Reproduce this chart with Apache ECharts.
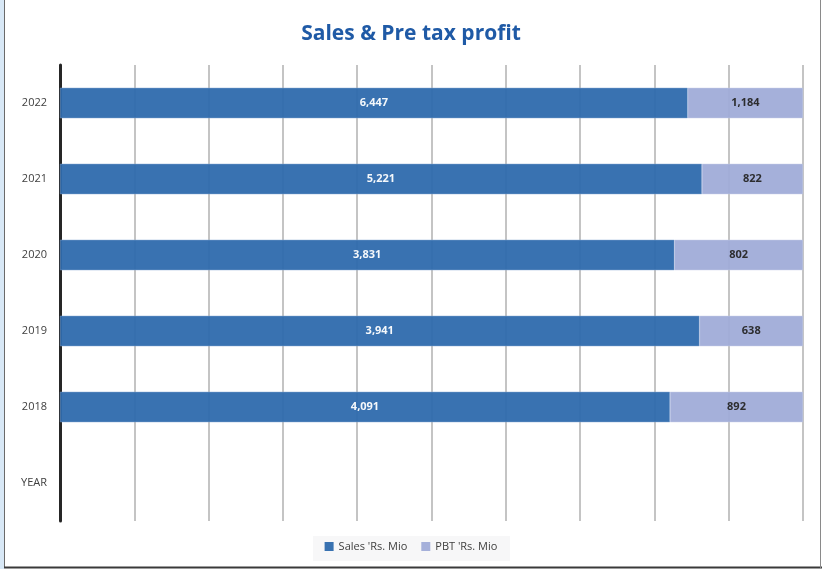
<!DOCTYPE html>
<html>
<head>
<meta charset="utf-8">
<script src="https://cdn.jsdelivr.net/npm/echarts@6/dist/echarts.min.js"></script>
<style>
html,body{margin:0;padding:0;background:#fff;}
#c{width:822px;height:569px;}
</style>
</head>
<body>
<div id="c"></div>
<script>
const categories = ['YEAR', '2018', '2019', '2020', '2021', '2022'];
const sales = [null, 4091, 3941, 3831, 5221, 6447];
const pbt = [null, 892, 638, 802, 822, 1184];
const seriesNames = ["Sales 'Rs. Mio", "PBT 'Rs. Mio"];

function pct(v, i) {
  if (v == null) return null;
  return v / (sales[i] + pbt[i]) * 100;
}
const salesData = sales.map((v, i) => ({ value: pct(v, i), raw: v }));
const pbtData = pbt.map((v, i) => ({ value: pct(v, i), raw: v }));
const fmt = p => p.data.raw == null ? '' : p.data.raw.toLocaleString('en-US');

const chart = echarts.init(document.getElementById('c'), null, { renderer: 'canvas' });
chart.setOption({
  animation: false,
  backgroundColor: '#ffffff',
  title: {
    text: 'Sales & Pre tax profit',
    left: 'center',
    top: 19,
    textStyle: { color: '#1f5aa6', fontSize: 21, fontWeight: 'bold', fontFamily: 'Open Sans, sans-serif' }
  },
  graphic: [
    { type: 'rect', left: 0, top: 0, shape: { x: 0, y: 0, width: 4, height: 569 }, style: { fill: '#d8e8f6' }, silent: true },
    { type: 'line', shape: { x1: 4.5, y1: 0, x2: 4.5, y2: 568 }, style: { stroke: '#6a6a6a', lineWidth: 1 }, silent: true },
    { type: 'line', shape: { x1: 4, y1: 567.5, x2: 822, y2: 567.5 }, style: { stroke: '#3a3a3a', lineWidth: 2 }, silent: true },
    { type: 'line', shape: { x1: 820.5, y1: 0, x2: 820.5, y2: 568 }, style: { stroke: '#8a8a8a', lineWidth: 1 }, silent: true },
    { type: 'rect', shape: { x: 313, y: 536, width: 197, height: 25 }, style: { fill: '#f7f7f8' }, silent: true, z: -1 }
  ],
  legend: {
    bottom: 12,
    left: 'center',
    itemWidth: 9,
    itemHeight: 9,
    itemGap: 14,
    icon: 'rect',
    itemStyle: { borderWidth: 0 },
    textStyle: { color: '#404040', fontSize: 11, fontFamily: 'Open Sans, sans-serif' },
    data: seriesNames
  },
  grid: { left: 60, right: 19, top: 65, bottom: 48, containLabel: false },
  xAxis: {
    type: 'value',
    min: 0,
    max: 100,
    interval: 10,
    axisLabel: { show: false },
    axisLine: { show: false },
    axisTick: { show: false },
    splitLine: { show: true, lineStyle: { color: '#c4c4c4', width: 2 } }
  },
  yAxis: {
    type: 'category',
    data: categories,
    axisLine: { show: true, lineStyle: { color: '#262626', width: 3 } },
    axisTick: { show: false },
    axisLabel: { color: '#404040', fontSize: 11, margin: 13, fontFamily: 'Open Sans, sans-serif' }
  },
  series: [
    {
      name: seriesNames[0],
      type: 'bar',
      stack: 'total',
      barWidth: '40%',
      data: salesData,
      itemStyle: { color: '#2e6aad', opacity: 0.95, borderColor: '#7ea3cf', borderWidth: 0.5 },
      label: { show: true, position: 'inside', formatter: fmt, color: '#ffffff', fontSize: 11, fontWeight: 'bold', fontFamily: 'Open Sans, sans-serif' }
    },
    {
      name: seriesNames[1],
      type: 'bar',
      stack: 'total',
      barWidth: '40%',
      data: pbtData,
      itemStyle: { color: '#a0acd8', opacity: 0.95, borderColor: '#c4cce8', borderWidth: 0.5 },
      label: { show: true, position: 'inside', formatter: fmt, color: '#262626', fontSize: 11, fontWeight: 'bold', fontFamily: 'Open Sans, sans-serif' }
    }
  ]
});
</script>
</body>
</html>
